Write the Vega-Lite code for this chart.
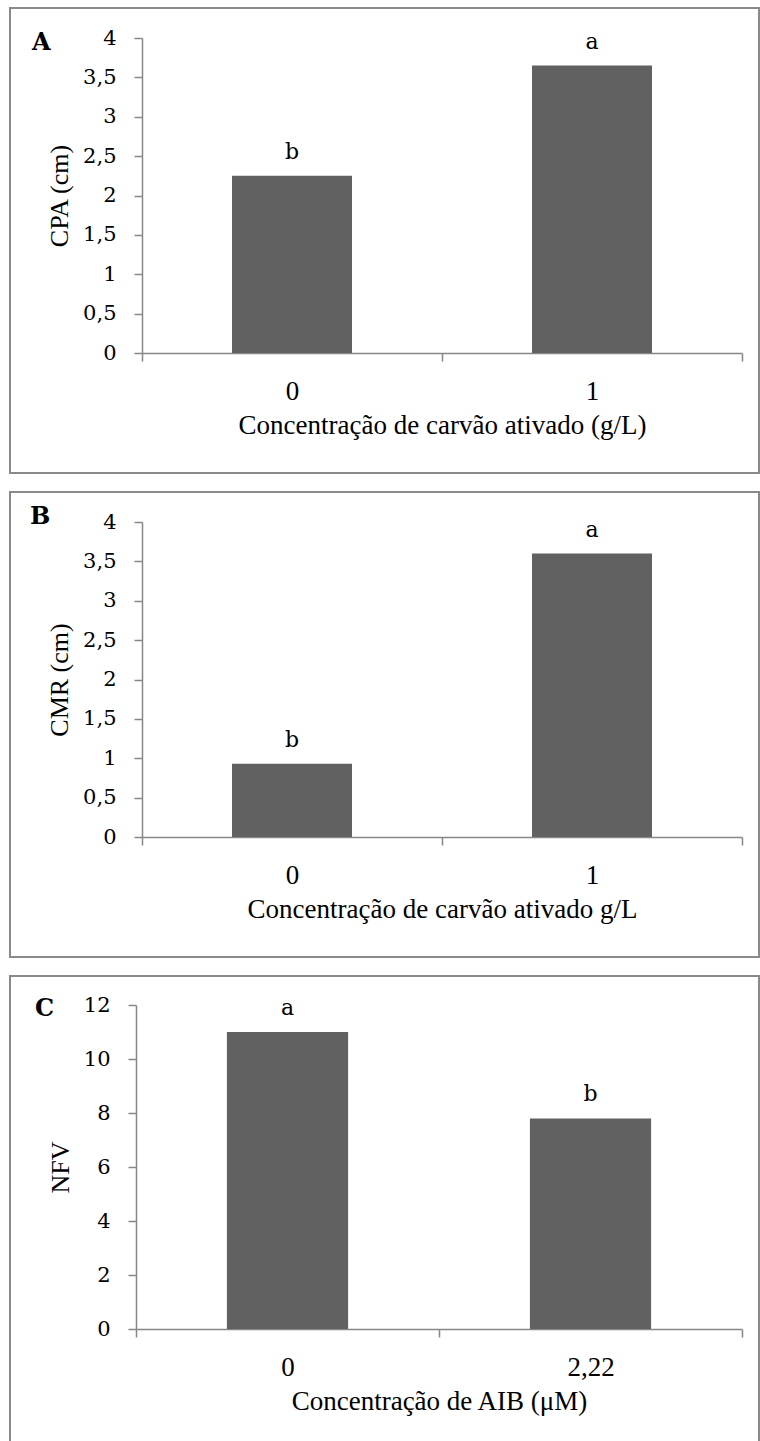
{
  "$schema": "https://vega.github.io/schema/vega-lite/v6.json",
  "padding": {"left": 9, "top": 7, "right": 0, "bottom": 0},
  "spacing": 17,
  "config": {
    "view": {"stroke": "#8a8a8a", "strokeWidth": 2},
    "axis": {"grid": false, "domainColor": "#878787", "tickColor": "#878787", "domainWidth": 1.5, "tickWidth": 1.5, "labelColor": "#000000", "titleColor": "#000000", "titleFontWeight": "normal", "tickSize": 8},
    "text": {"color": "#000000"}
  },
  "vconcat": [
    {
      "width": 749, "height": 465,
      "title": {"text": "A", "anchor": "start", "frame": "group", "font": "DejaVu Serif", "fontSize": 24, "fontWeight": "bold", "color": "#000000", "baseline": "top", "offset": -47, "dx": 22},
      "data": {"values": [
        {"conc": "0", "cpa": 2.25, "letra": "b"},
        {"conc": "1", "cpa": 3.65, "letra": "a"}
      ]},
      "encoding": {
        "x": {"field": "conc", "type": "nominal", "sort": null,
          "scale": {"range": [132, 732], "paddingInner": 0, "paddingOuter": 0},
          "axis": {"title": "Concentração de carvão ativado (g/L)", "offset": -120, "labelAngle": 0, "tickBand": "extent", "labelFont": "Liberation Serif", "labelFontSize": 27, "labelPadding": 17, "titleFont": "Liberation Serif", "titleFontSize": 27, "titlePadding": 8}},
        "y": {"field": "cpa", "type": "quantitative",
          "scale": {"domain": [0, 4], "range": [345, 30], "nice": false},
          "axis": {"title": "CPA (cm)", "offset": -132, "values": [0, 0.5, 1, 1.5, 2, 2.5, 3, 3.5, 4], "labelExpr": "replace(format(datum.value, '.1~f'), '.', ',')", "labelFont": "DejaVu Serif", "labelFontSize": 21, "labelPadding": 18, "titleFont": "Liberation Serif", "titleFontSize": 26, "titlePadding": 10}}
      },
      "layer": [
        {"mark": {"type": "bar", "color": "#616161", "width": {"band": 0.4}}},
        {"mark": {"type": "text", "font": "DejaVu Serif", "fontSize": 22, "baseline": "alphabetic", "dy": -17, "color": "#000000"}, "encoding": {"text": {"field": "letra"}}}
      ]
    },
    {
      "width": 749, "height": 465,
      "title": {"text": "B", "anchor": "start", "frame": "group", "font": "DejaVu Serif", "fontSize": 24, "fontWeight": "bold", "color": "#000000", "baseline": "top", "offset": -37, "dx": 20},
      "data": {"values": [
        {"conc": "0", "cmr": 0.93, "letra": "b"},
        {"conc": "1", "cmr": 3.6, "letra": "a"}
      ]},
      "encoding": {
        "x": {"field": "conc", "type": "nominal", "sort": null,
          "scale": {"range": [132, 732], "paddingInner": 0, "paddingOuter": 0},
          "axis": {"title": "Concentração de carvão ativado g/L", "offset": -120, "labelAngle": 0, "tickBand": "extent", "labelFont": "Liberation Serif", "labelFontSize": 27, "labelPadding": 17, "titleFont": "Liberation Serif", "titleFontSize": 27, "titlePadding": 8}},
        "y": {"field": "cmr", "type": "quantitative",
          "scale": {"domain": [0, 4], "range": [345, 30], "nice": false},
          "axis": {"title": "CMR (cm)", "offset": -132, "values": [0, 0.5, 1, 1.5, 2, 2.5, 3, 3.5, 4], "labelExpr": "replace(format(datum.value, '.1~f'), '.', ',')", "labelFont": "DejaVu Serif", "labelFontSize": 21, "labelPadding": 18, "titleFont": "Liberation Serif", "titleFontSize": 26, "titlePadding": 10}}
      },
      "layer": [
        {"mark": {"type": "bar", "color": "#616161", "width": {"band": 0.4}}},
        {"mark": {"type": "text", "font": "DejaVu Serif", "fontSize": 22, "baseline": "alphabetic", "dy": -17, "color": "#000000"}, "encoding": {"text": {"field": "letra"}}}
      ]
    },
    {
      "width": 749, "height": 480,
      "title": {"text": "C", "anchor": "start", "frame": "group", "font": "DejaVu Serif", "fontSize": 24, "fontWeight": "bold", "color": "#000000", "baseline": "top", "offset": 0, "dy": 45, "dx": 25},
      "data": {"values": [
        {"aib": "0", "nfv": 11, "letra": "a"},
        {"aib": "2,22", "nfv": 7.8, "letra": "b"}
      ]},
      "encoding": {
        "x": {"field": "aib", "type": "nominal", "sort": null,
          "scale": {"range": [126, 732], "paddingInner": 0, "paddingOuter": 0},
          "axis": {"title": "Concentração de AIB (μM)", "offset": -127, "labelAngle": 0, "tickBand": "extent", "labelFont": "Liberation Serif", "labelFontSize": 27, "labelPadding": 17, "titleFont": "Liberation Serif", "titleFontSize": 27, "titlePadding": 8}},
        "y": {"field": "nfv", "type": "quantitative",
          "scale": {"domain": [0, 12], "range": [353, 29], "nice": false},
          "axis": {"title": "NFV", "offset": -126, "values": [0, 2, 4, 6, 8, 10, 12], "labelFont": "DejaVu Serif", "labelFontSize": 21, "labelPadding": 18, "titleFont": "Liberation Serif", "titleFontSize": 26, "titlePadding": 10}}
      },
      "layer": [
        {"mark": {"type": "bar", "color": "#616161", "width": {"band": 0.4}}},
        {"mark": {"type": "text", "font": "DejaVu Serif", "fontSize": 22, "baseline": "alphabetic", "dy": -17, "color": "#000000"}, "encoding": {"text": {"field": "letra"}}}
      ]
    }
  ]
}
